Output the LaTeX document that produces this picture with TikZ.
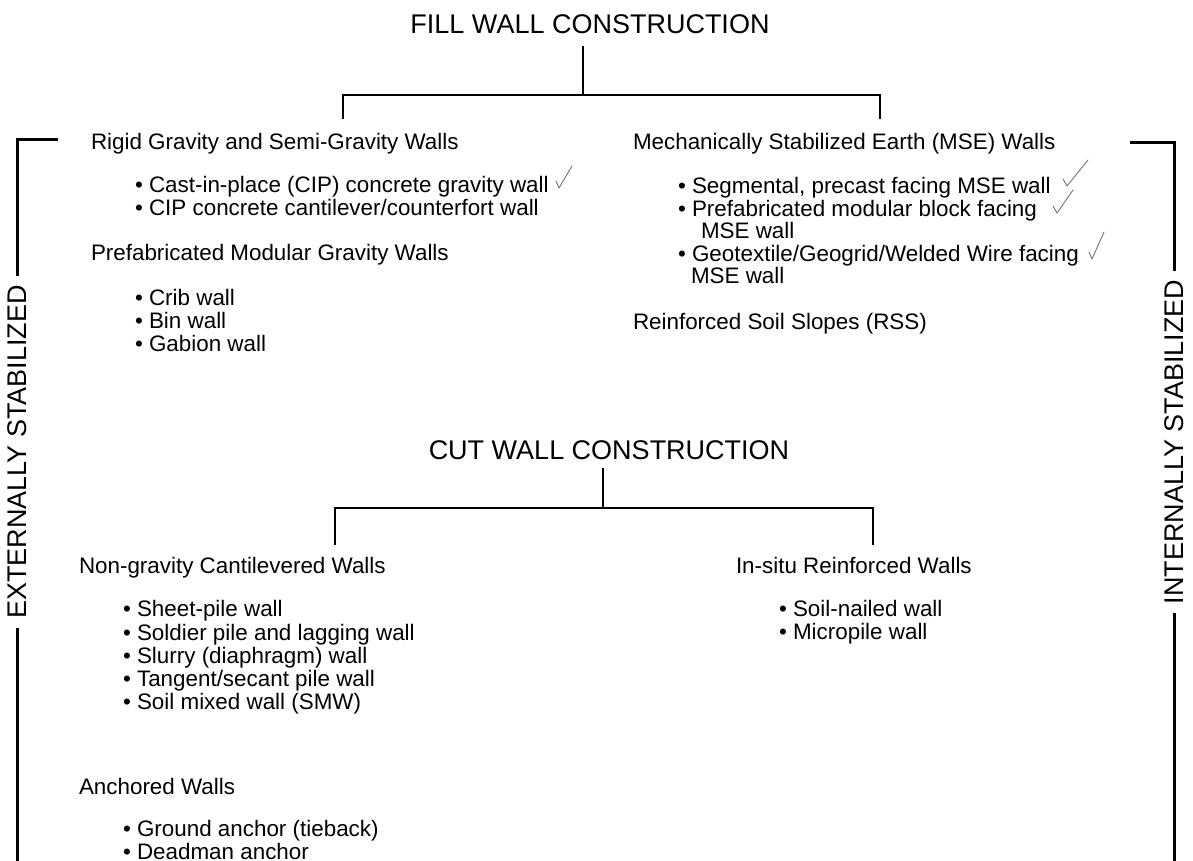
\documentclass[tikz,border=0pt]{standalone}
\usepackage{fontspec}
\setmainfont{Liberation Sans}
\usetikzlibrary{positioning}
\tikzstyle{title}=[font=\fontsize{13.5}{16}\selectfont,inner sep=0pt]
\tikzstyle{side}=[font=\fontsize{13.5}{16}\selectfont,rotate=90,
                  inner xsep=4pt,inner ysep=0pt]
\tikzstyle{group}=[anchor=base west,inner sep=0pt,
                   font=\fontsize{11.2}{13}\selectfont]
\tikzstyle{tick}=[draw=black!55,line width=0.45pt,
                  line cap=round,line join=round]

\begin{document}
\begin{tikzpicture}[x=0.5pt,y=-0.5pt,line width=1pt]
    \newcommand{\blt}{\textbullet\ }
    \useasboundingbox (0,0) rectangle (1193,861);
    % fill walls
    \node (fill) at (590,24) [title]{FILL WALL CONSTRUCTION};
    \coordinate (fj) at (583,95);
    \coordinate (fl) at (343,119);
    \coordinate (fr) at (880,119);
    \draw[shorten <=5.5pt] (fill.south -| fj) -- (fj);
    \draw (fl) |- (fj) -| (fr);
    \node (rigid) at (90,150) [group]{Rigid Gravity and Semi-Gravity Walls};
    \node (cip1) at (134,193) [group]{\blt Cast-in-place (CIP) concrete gravity wall};
    \node (cip2) at (134,216) [group]{\blt CIP concrete cantilever/counterfort wall};
    \node (prefab) at (90,261) [group]{Prefabricated Modular Gravity Walls};
    \node (crib) at (134,305) [group]{\blt Crib wall};
    \node (bin) at (134,328) [group]{\blt Bin wall};
    \node (gabion) at (134,351) [group]{\blt Gabion wall};
    \node (mse) at (632,150) [group]{Mechanically Stabilized Earth (MSE) Walls};
    \node (seg) at (677,194) [group]{\blt Segmental, precast facing MSE wall};
    \node (pmb) at (677,217) [group]{\blt Prefabricated modular block facing};
    \node (pmb2) at (700,239) [group]{MSE wall};
    \node (geo) at (677,262) [group]{\blt Geotextile/Geogrid/Welded Wire facing};
    \node (geo2) at (690,284) [group]{MSE wall};
    \node (rss) at (632,329) [group]{Reinforced Soil Slopes (RSS)};
    % check marks
    \draw[tick] (556,181) -- (559,188) -- (572,166);
    \draw[tick] (1063,179) -- (1067,186) -- (1088,160);
    \draw[tick] (1053,206) -- (1057,213) -- (1073,190);
    \draw[tick] (1089,252) -- (1092,259) -- (1104,232);
    % cut walls
    \node (cut) at (609,450) [title]{CUT WALL CONSTRUCTION};
    \coordinate (cj) at (603,508);
    \coordinate (cl) at (335,545);
    \coordinate (cr) at (873,545);
    \draw[shorten <=3.5pt] (cut.south -| cj) -- (cj);
    \draw (cl) |- (cj) -| (cr);
    \node (nongrav) at (78,573) [group]{Non-gravity Cantilevered Walls};
    \node (sheet) at (122,616) [group]{\blt Sheet-pile wall};
    \node (soldier) at (122,640) [group]{\blt Soldier pile and lagging wall};
    \node (slurry) at (122,663) [group]{\blt Slurry (diaphragm) wall};
    \node (tangent) at (122,686) [group]{\blt Tangent/secant pile wall};
    \node (smw) at (122,709) [group]{\blt Soil mixed wall (SMW)};
    \node (anchored) at (78,794) [group]{Anchored Walls};
    \node (ground) at (122,836) [group]{\blt Ground anchor (tieback)};
    \node (deadman) at (122,859) [group]{\blt Deadman anchor};
    \node (insitu) at (735,573) [group]{In-situ Reinforced Walls};
    \node (nail) at (778,616) [group]{\blt Soil-nailed wall};
    \node (micro) at (778,639) [group]{\blt Micropile wall};
    % side brackets
    \node (ext) at (17,452) [side]{EXTERNALLY STABILIZED};
    \node (int) at (1174,442) [side]{INTERNALLY STABILIZED};
    \coordinate (et) at (58,140);
    \coordinate (eb) at (17,861);
    \coordinate (it) at (1130,143);
    \coordinate (ib) at (1174,861);
    \draw[line width=1.5pt] (et) -| (ext.east);
    \draw[line width=1.5pt] (ext.west) -- (eb);
    \draw[line width=1.5pt] (it) -| (int.east);
    \draw[line width=1.5pt] (int.west) -- (ib);
\end{tikzpicture}
\end{document}
